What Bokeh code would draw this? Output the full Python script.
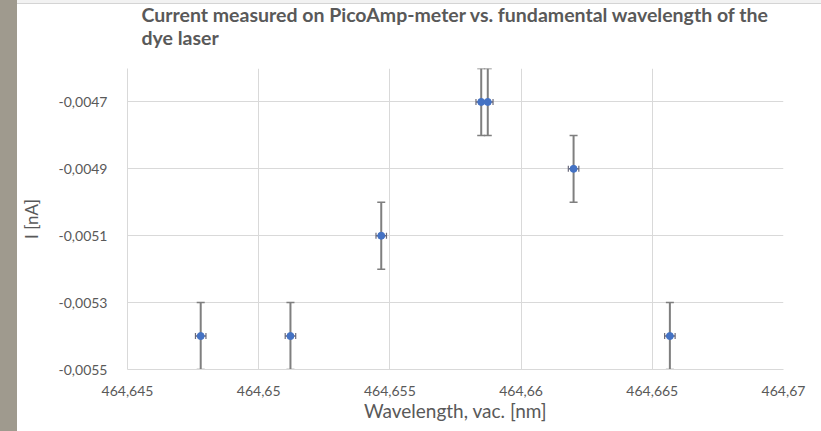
from bokeh.plotting import figure
from bokeh.models import (Whisker, ColumnDataSource, FixedTicker, CustomJSTickFormatter,
                          Range1d, Div, TeeHead)
from bokeh.layouts import row, column
from bokeh.embed import file_html
from bokeh.resources import INLINE

# data
wavelength = [464.64779, 464.65121, 464.65467, 464.65848, 464.65873, 464.66200, 464.66567]
current = [-0.0054, -0.0054, -0.0051, -0.0047, -0.0047, -0.0049, -0.0054]
current_err = [0.0001, 0.0001, 0.0001, 0.0001, 0.0001, 0.0001, 0.0001]
wavelength_err = [0.0002, 0.0002, 0.0002, 0.0002, 0.0002, 0.0002, 0.0002]
x_ticks = [464.645, 464.65, 464.655, 464.66, 464.665, 464.67]
y_ticks = [-0.0055, -0.0053, -0.0051, -0.0049, -0.0047]
title_text = "Current measured on PicoAmp-meter vs. fundamental wavelength of the\ndye laser"

FONT = "Lato"
GRAY_TXT = "#595959"
GRID = "#d9d9d9"

src = ColumnDataSource(dict(
    x=wavelength, y=current,
    ylo=[c - e for c, e in zip(current, current_err)],
    yhi=[c + e for c, e in zip(current, current_err)],
    xlo=[w - e for w, e in zip(wavelength, wavelength_err)],
    xhi=[w + e for w, e in zip(wavelength, wavelength_err)],
))

p = figure(width=804, height=427, output_backend="svg", toolbar_location=None,
           x_range=Range1d(464.645, 464.67), y_range=Range1d(-0.0055, -0.0046),
           min_border_left=109, min_border_right=38, min_border_top=64, min_border_bottom=62)

# a blank trailing line lifts the two title lines away from the frame
p.title.text = title_text + "\n "
p.title.text_font = FONT
p.title.text_font_size = "19.5px"
p.title.text_font_style = "bold"
p.title.text_color = GRAY_TXT
p.title.align = "center"
p.title.standoff = -7

p.outline_line_color = None
p.background_fill_color = "white"
p.border_fill_color = "white"

p.xaxis.ticker = FixedTicker(ticks=x_ticks)
p.yaxis.ticker = FixedTicker(ticks=y_ticks)
p.xaxis.formatter = CustomJSTickFormatter(code="return String(+tick.toFixed(4)).replace('.', ',');")
p.yaxis.formatter = CustomJSTickFormatter(code="return String(+tick.toFixed(5)).replace('.', ',');")

for ax in (p.xaxis, p.yaxis):
    ax.axis_line_color = GRID
    ax.major_tick_line_color = None
    ax.minor_tick_line_color = None
    ax.major_label_text_font = FONT
    ax.major_label_text_font_size = "14px"
    ax.major_label_text_color = GRAY_TXT
    ax.axis_label_text_font = FONT
    ax.axis_label_text_font_style = "normal"
    ax.axis_label_text_color = GRAY_TXT

p.xaxis.axis_label = "Wavelength, vac. [nm]"
p.yaxis.axis_label = "I [nA]"
p.xaxis.axis_label_text_font_size = "19px"
p.yaxis.axis_label_text_font_size = "17px"
p.xaxis.major_label_standoff = 10
p.yaxis.major_label_standoff = 14
p.xaxis.axis_label_standoff = 0
p.yaxis.axis_label_standoff = 14

p.grid.grid_line_color = GRID
p.grid.grid_line_width = 1

vw = Whisker(source=src, base="x", lower="ylo", upper="yhi", dimension="height",
             line_color="#7f7f7f", line_width=2,
             lower_head=TeeHead(size=8, line_color="#7f7f7f", line_width=1.5),
             upper_head=TeeHead(size=8, line_color="#7f7f7f", line_width=1.5))
p.add_layout(vw)
hw = Whisker(source=src, base="y", lower="xlo", upper="xhi", dimension="width",
             line_color="#6a6a7a", line_width=1.5,
             lower_head=TeeHead(size=6, line_color="#6a6a7a", line_width=1.2),
             upper_head=TeeHead(size=6, line_color="#6a6a7a", line_width=1.2))
p.add_layout(hw)

p.scatter("x", "y", source=src, size=7, color="#4472c4")

strip = Div(width=17, height=431, margin=0, styles={"background-color": "#9f9a8e"})
topbar = Div(width=804, height=4, margin=0,
             styles={"background-color": "#f2f2f2", "border-bottom": "1px solid #d4d4d4",
                     "box-sizing": "border-box"})
layout = row(strip, column(topbar, p, spacing=0), spacing=0)

open("out.html", "w").write(file_html(layout, INLINE))
